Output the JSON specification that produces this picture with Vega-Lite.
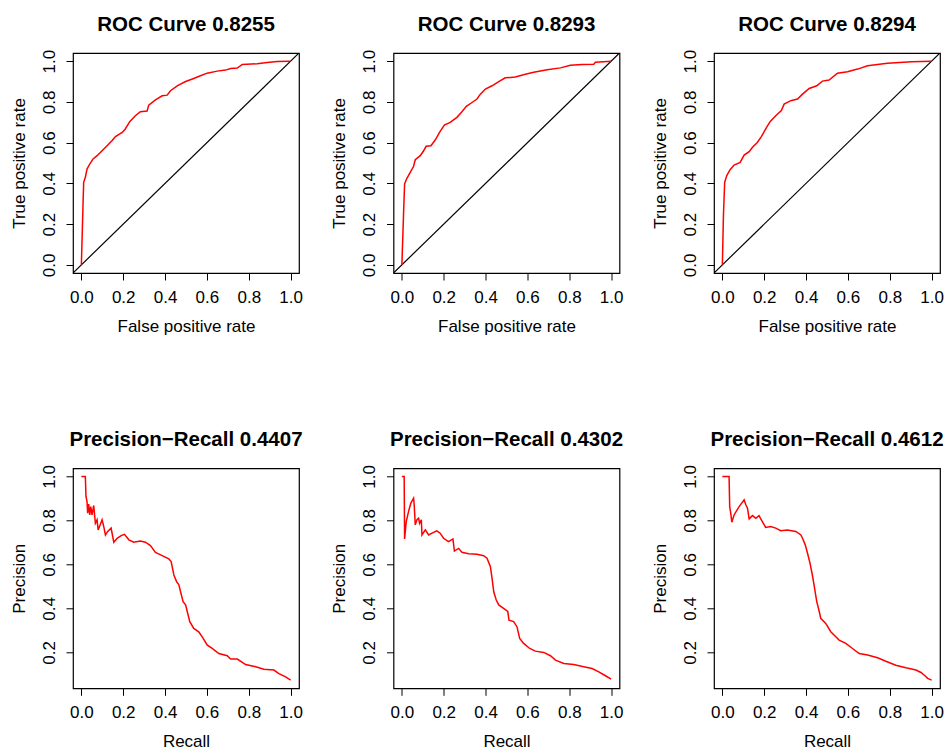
{
  "$schema": "https://vega.github.io/schema/vega-lite/v6.json",
  "background": "white",
  "padding": {"left": 9, "top": 14, "right": 0, "bottom": 0},
  "autosize": {"type": "pad"},
  "datasets": {
    "diag": [{"x": -0.04, "y": -0.04}, {"x": 1.04, "y": 1.04}],
    "roc1": [{"x":0,"y":0},{"x":0.008,"y":0.3},{"x":0.011,"y":0.405},{"x":0.019,"y":0.43},{"x":0.027,"y":0.47},{"x":0.04,"y":0.495},{"x":0.056,"y":0.52},{"x":0.075,"y":0.536},{"x":0.099,"y":0.56},{"x":0.123,"y":0.585},{"x":0.147,"y":0.61},{"x":0.163,"y":0.63},{"x":0.195,"y":0.65},{"x":0.21,"y":0.667},{"x":0.231,"y":0.703},{"x":0.258,"y":0.732},{"x":0.282,"y":0.752},{"x":0.314,"y":0.755},{"x":0.322,"y":0.784},{"x":0.354,"y":0.81},{"x":0.386,"y":0.83},{"x":0.41,"y":0.833},{"x":0.426,"y":0.855},{"x":0.458,"y":0.879},{"x":0.498,"y":0.9},{"x":0.537,"y":0.915},{"x":0.569,"y":0.928},{"x":0.601,"y":0.941},{"x":0.649,"y":0.951},{"x":0.689,"y":0.956},{"x":0.713,"y":0.964},{"x":0.745,"y":0.966},{"x":0.769,"y":0.984},{"x":0.84,"y":0.987},{"x":0.888,"y":0.993},{"x":0.936,"y":0.998},{"x":0.992,"y":1.0},{"x":1,"y":1}],
    "roc2": [{"x":0,"y":0},{"x":0.008,"y":0.25},{"x":0.013,"y":0.397},{"x":0.024,"y":0.425},{"x":0.04,"y":0.454},{"x":0.056,"y":0.484},{"x":0.064,"y":0.516},{"x":0.088,"y":0.536},{"x":0.104,"y":0.56},{"x":0.116,"y":0.582},{"x":0.139,"y":0.585},{"x":0.16,"y":0.614},{"x":0.18,"y":0.65},{"x":0.203,"y":0.686},{"x":0.231,"y":0.699},{"x":0.263,"y":0.724},{"x":0.287,"y":0.752},{"x":0.308,"y":0.778},{"x":0.335,"y":0.797},{"x":0.359,"y":0.814},{"x":0.375,"y":0.838},{"x":0.399,"y":0.863},{"x":0.431,"y":0.879},{"x":0.463,"y":0.899},{"x":0.494,"y":0.918},{"x":0.542,"y":0.922},{"x":0.59,"y":0.936},{"x":0.63,"y":0.946},{"x":0.694,"y":0.958},{"x":0.758,"y":0.967},{"x":0.805,"y":0.98},{"x":0.861,"y":0.984},{"x":0.917,"y":0.985},{"x":0.925,"y":0.995},{"x":1,"y":1}],
    "roc3": [{"x":0,"y":0},{"x":0.005,"y":0.24},{"x":0.011,"y":0.405},{"x":0.021,"y":0.438},{"x":0.037,"y":0.467},{"x":0.056,"y":0.49},{"x":0.085,"y":0.503},{"x":0.104,"y":0.539},{"x":0.128,"y":0.556},{"x":0.144,"y":0.577},{"x":0.167,"y":0.601},{"x":0.187,"y":0.631},{"x":0.207,"y":0.667},{"x":0.228,"y":0.703},{"x":0.255,"y":0.732},{"x":0.282,"y":0.757},{"x":0.295,"y":0.789},{"x":0.327,"y":0.806},{"x":0.359,"y":0.814},{"x":0.383,"y":0.838},{"x":0.415,"y":0.866},{"x":0.451,"y":0.879},{"x":0.478,"y":0.902},{"x":0.51,"y":0.907},{"x":0.55,"y":0.941},{"x":0.598,"y":0.948},{"x":0.646,"y":0.961},{"x":0.694,"y":0.977},{"x":0.789,"y":0.99},{"x":0.904,"y":0.997},{"x":1,"y":1}],
    "pr1": [{"x":0.0,"y":1.0},{"x":0.019,"y":1.0},{"x":0.022,"y":0.909},{"x":0.027,"y":0.886},{"x":0.03,"y":0.833},{"x":0.035,"y":0.874},{"x":0.04,"y":0.825},{"x":0.045,"y":0.863},{"x":0.051,"y":0.825},{"x":0.059,"y":0.868},{"x":0.067,"y":0.787},{"x":0.075,"y":0.803},{"x":0.08,"y":0.757},{"x":0.091,"y":0.783},{"x":0.099,"y":0.803},{"x":0.107,"y":0.772},{"x":0.115,"y":0.734},{"x":0.126,"y":0.75},{"x":0.142,"y":0.765},{"x":0.155,"y":0.701},{"x":0.171,"y":0.719},{"x":0.19,"y":0.731},{"x":0.206,"y":0.737},{"x":0.227,"y":0.712},{"x":0.25,"y":0.701},{"x":0.282,"y":0.707},{"x":0.306,"y":0.701},{"x":0.33,"y":0.686},{"x":0.354,"y":0.655},{"x":0.386,"y":0.64},{"x":0.418,"y":0.625},{"x":0.429,"y":0.613},{"x":0.442,"y":0.552},{"x":0.455,"y":0.522},{"x":0.466,"y":0.507},{"x":0.474,"y":0.476},{"x":0.486,"y":0.431},{"x":0.498,"y":0.416},{"x":0.506,"y":0.386},{"x":0.518,"y":0.34},{"x":0.537,"y":0.309},{"x":0.561,"y":0.294},{"x":0.582,"y":0.264},{"x":0.601,"y":0.234},{"x":0.625,"y":0.218},{"x":0.657,"y":0.195},{"x":0.697,"y":0.185},{"x":0.713,"y":0.17},{"x":0.745,"y":0.17},{"x":0.785,"y":0.145},{"x":0.833,"y":0.135},{"x":0.872,"y":0.124},{"x":0.92,"y":0.12},{"x":0.944,"y":0.104},{"x":0.976,"y":0.089},{"x":1.0,"y":0.074}],
    "pr2": [{"x":0.0,"y":1.0},{"x":0.011,"y":1.0},{"x":0.013,"y":0.716},{"x":0.021,"y":0.795},{"x":0.032,"y":0.841},{"x":0.043,"y":0.879},{"x":0.056,"y":0.901},{"x":0.059,"y":0.871},{"x":0.064,"y":0.78},{"x":0.072,"y":0.803},{"x":0.08,"y":0.81},{"x":0.085,"y":0.787},{"x":0.093,"y":0.803},{"x":0.096,"y":0.734},{"x":0.112,"y":0.757},{"x":0.128,"y":0.734},{"x":0.144,"y":0.742},{"x":0.167,"y":0.753},{"x":0.183,"y":0.742},{"x":0.199,"y":0.719},{"x":0.223,"y":0.704},{"x":0.244,"y":0.716},{"x":0.251,"y":0.661},{"x":0.271,"y":0.673},{"x":0.287,"y":0.655},{"x":0.319,"y":0.649},{"x":0.359,"y":0.646},{"x":0.391,"y":0.64},{"x":0.407,"y":0.628},{"x":0.423,"y":0.59},{"x":0.431,"y":0.537},{"x":0.439,"y":0.476},{"x":0.451,"y":0.438},{"x":0.463,"y":0.416},{"x":0.486,"y":0.4},{"x":0.506,"y":0.386},{"x":0.512,"y":0.347},{"x":0.534,"y":0.34},{"x":0.55,"y":0.317},{"x":0.563,"y":0.264},{"x":0.582,"y":0.241},{"x":0.611,"y":0.218},{"x":0.638,"y":0.206},{"x":0.678,"y":0.2},{"x":0.71,"y":0.185},{"x":0.734,"y":0.165},{"x":0.774,"y":0.15},{"x":0.821,"y":0.145},{"x":0.869,"y":0.135},{"x":0.909,"y":0.127},{"x":0.941,"y":0.112},{"x":0.973,"y":0.094},{"x":1.0,"y":0.079}],
    "pr3": [{"x":0.0,"y":1.0},{"x":0.032,"y":1.0},{"x":0.035,"y":0.863},{"x":0.04,"y":0.833},{"x":0.045,"y":0.792},{"x":0.056,"y":0.825},{"x":0.08,"y":0.863},{"x":0.104,"y":0.894},{"x":0.112,"y":0.871},{"x":0.12,"y":0.856},{"x":0.128,"y":0.807},{"x":0.144,"y":0.822},{"x":0.16,"y":0.81},{"x":0.175,"y":0.822},{"x":0.191,"y":0.795},{"x":0.207,"y":0.768},{"x":0.231,"y":0.772},{"x":0.255,"y":0.765},{"x":0.279,"y":0.753},{"x":0.311,"y":0.756},{"x":0.351,"y":0.75},{"x":0.375,"y":0.734},{"x":0.383,"y":0.719},{"x":0.396,"y":0.689},{"x":0.407,"y":0.651},{"x":0.419,"y":0.605},{"x":0.43,"y":0.552},{"x":0.438,"y":0.507},{"x":0.451,"y":0.431},{"x":0.463,"y":0.386},{"x":0.47,"y":0.355},{"x":0.494,"y":0.332},{"x":0.518,"y":0.294},{"x":0.542,"y":0.271},{"x":0.558,"y":0.256},{"x":0.59,"y":0.241},{"x":0.622,"y":0.218},{"x":0.654,"y":0.195},{"x":0.694,"y":0.188},{"x":0.742,"y":0.176},{"x":0.781,"y":0.16},{"x":0.829,"y":0.142},{"x":0.877,"y":0.13},{"x":0.925,"y":0.12},{"x":0.949,"y":0.109},{"x":0.968,"y":0.094},{"x":0.981,"y":0.082},{"x":1.0,"y":0.074}]
  },
  "columns": 3,
  "bounds": "flush",
  "spacing": {"row": 195.3, "column": 94.5},
  "concat": [
    {
      "width": 226, "height": 220,
      "title": "ROC Curve 0.8255",
      "layer": [
        {"data": {"name": "diag"}, "mark": {"type": "line", "color": "black", "strokeWidth": 1.2, "clip": true},
         "encoding": {
           "x": {"field": "x", "type": "quantitative", "title": "False positive rate", "scale": {"domain": [-0.04, 1.04], "nice": false, "zero": false}, "axis": {"values": [0, 0.2, 0.4, 0.6, 0.8, 1]}},
           "y": {"field": "y", "type": "quantitative", "title": "True positive rate", "scale": {"domain": [-0.04, 1.04], "nice": false, "zero": false}, "axis": {"values": [0, 0.2, 0.4, 0.6, 0.8, 1]}}}},
        {"data": {"name": "roc1"}, "mark": {"type": "line", "color": "#FF0000", "strokeWidth": 1.5},
         "encoding": {
           "x": {"field": "x", "type": "quantitative", "title": "False positive rate"},
           "y": {"field": "y", "type": "quantitative", "title": "True positive rate"}}}
      ]
    },
    {
      "width": 226, "height": 220,
      "title": "ROC Curve 0.8293",
      "layer": [
        {"data": {"name": "diag"}, "mark": {"type": "line", "color": "black", "strokeWidth": 1.2, "clip": true},
         "encoding": {
           "x": {"field": "x", "type": "quantitative", "title": "False positive rate", "scale": {"domain": [-0.04, 1.04], "nice": false, "zero": false}, "axis": {"values": [0, 0.2, 0.4, 0.6, 0.8, 1]}},
           "y": {"field": "y", "type": "quantitative", "title": "True positive rate", "scale": {"domain": [-0.04, 1.04], "nice": false, "zero": false}, "axis": {"values": [0, 0.2, 0.4, 0.6, 0.8, 1]}}}},
        {"data": {"name": "roc2"}, "mark": {"type": "line", "color": "#FF0000", "strokeWidth": 1.5},
         "encoding": {
           "x": {"field": "x", "type": "quantitative", "title": "False positive rate"},
           "y": {"field": "y", "type": "quantitative", "title": "True positive rate"}}}
      ]
    },
    {
      "width": 226, "height": 220,
      "title": "ROC Curve 0.8294",
      "layer": [
        {"data": {"name": "diag"}, "mark": {"type": "line", "color": "black", "strokeWidth": 1.2, "clip": true},
         "encoding": {
           "x": {"field": "x", "type": "quantitative", "title": "False positive rate", "scale": {"domain": [-0.04, 1.04], "nice": false, "zero": false}, "axis": {"values": [0, 0.2, 0.4, 0.6, 0.8, 1]}},
           "y": {"field": "y", "type": "quantitative", "title": "True positive rate", "scale": {"domain": [-0.04, 1.04], "nice": false, "zero": false}, "axis": {"values": [0, 0.2, 0.4, 0.6, 0.8, 1]}}}},
        {"data": {"name": "roc3"}, "mark": {"type": "line", "color": "#FF0000", "strokeWidth": 1.5},
         "encoding": {
           "x": {"field": "x", "type": "quantitative", "title": "False positive rate"},
           "y": {"field": "y", "type": "quantitative", "title": "True positive rate"}}}
      ]
    },
    {
      "width": 226, "height": 220,
      "title": "Precision−Recall 0.4407",
      "data": {"name": "pr1"},
      "mark": {"type": "line", "color": "#FF0000", "strokeWidth": 1.5},
      "encoding": {
        "x": {"field": "x", "type": "quantitative", "title": "Recall", "scale": {"domain": [-0.04, 1.04], "nice": false, "zero": false}, "axis": {"values": [0, 0.2, 0.4, 0.6, 0.8, 1]}},
        "y": {"field": "y", "type": "quantitative", "title": "Precision", "scale": {"domain": [0.037, 1.037], "nice": false, "zero": false}, "axis": {"values": [0.2, 0.4, 0.6, 0.8, 1]}}}
    },
    {
      "width": 226, "height": 220,
      "title": "Precision−Recall 0.4302",
      "data": {"name": "pr2"},
      "mark": {"type": "line", "color": "#FF0000", "strokeWidth": 1.5},
      "encoding": {
        "x": {"field": "x", "type": "quantitative", "title": "Recall", "scale": {"domain": [-0.04, 1.04], "nice": false, "zero": false}, "axis": {"values": [0, 0.2, 0.4, 0.6, 0.8, 1]}},
        "y": {"field": "y", "type": "quantitative", "title": "Precision", "scale": {"domain": [0.037, 1.037], "nice": false, "zero": false}, "axis": {"values": [0.2, 0.4, 0.6, 0.8, 1]}}}
    },
    {
      "width": 226, "height": 220,
      "title": "Precision−Recall 0.4612",
      "data": {"name": "pr3"},
      "mark": {"type": "line", "color": "#FF0000", "strokeWidth": 1.5},
      "encoding": {
        "x": {"field": "x", "type": "quantitative", "title": "Recall", "scale": {"domain": [-0.04, 1.04], "nice": false, "zero": false}, "axis": {"values": [0, 0.2, 0.4, 0.6, 0.8, 1]}},
        "y": {"field": "y", "type": "quantitative", "title": "Precision", "scale": {"domain": [0.037, 1.037], "nice": false, "zero": false}, "axis": {"values": [0.2, 0.4, 0.6, 0.8, 1]}}}
    }
  ],
  "config": {
    "font": "Liberation Sans",
    "view": {"stroke": "black", "strokeWidth": 1.2, "fill": "white"},
    "axis": {
      "domain": false, "grid": false,
      "ticks": true, "tickColor": "black", "tickSize": 7, "tickWidth": 1,
      "labelFont": "Liberation Sans", "labelFontSize": 17, "labelColor": "black",
      "labelFlush": false, "labelOverlap": false, "format": ".1f",
      "titleFont": "Liberation Sans", "titleFontSize": 17, "titleFontWeight": "normal", "titleColor": "black"
    },
    "axisX": {"labelBaseline": "alphabetic", "labelPadding": 22.5, "titleY": 58.5, "titleBaseline": "alphabetic"},
    "axisY": {"labelAngle": -90, "labelAlign": "center", "labelBaseline": "alphabetic", "labelPadding": 11.7, "titleX": -48.8, "titleBaseline": "alphabetic"},
    "title": {"font": "Liberation Sans", "fontSize": 20.5, "fontWeight": "bold", "color": "black", "offset": 14, "baseline": "alphabetic", "anchor": "middle"}
  }
}
